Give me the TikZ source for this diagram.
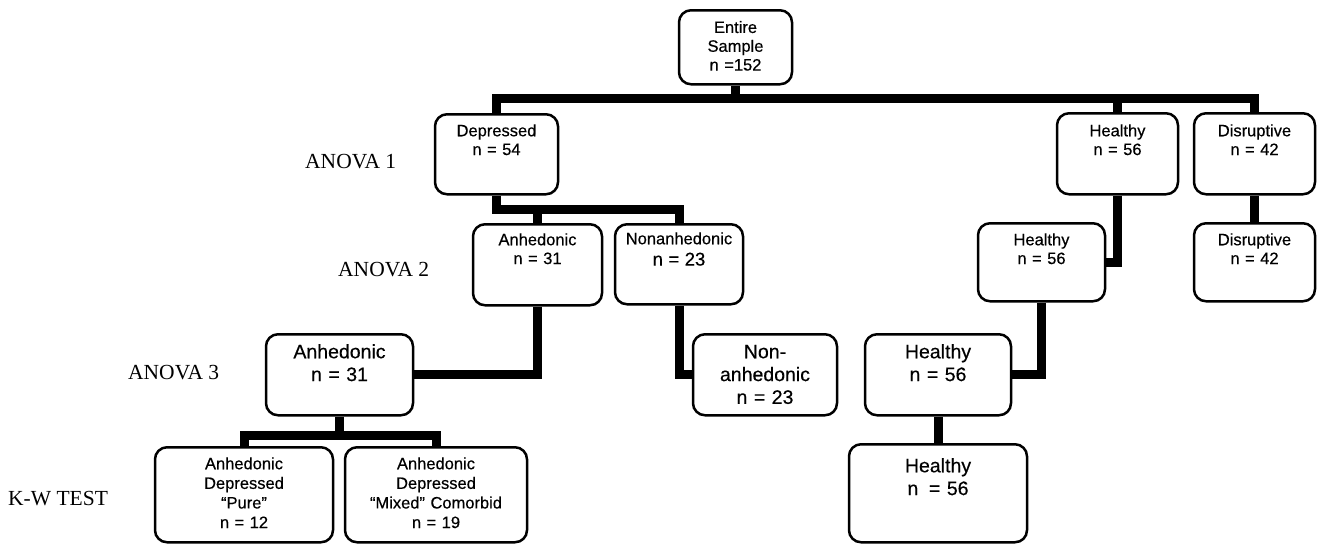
\documentclass[tikz,border=0pt]{standalone}
\usepackage{fontspec}
\setmainfont{Liberation Serif}
\setsansfont[FakeBold=0.4]{Liberation Sans}
\begin{document}
\begin{tikzpicture}[x=1pt,y=-1pt,
  box/.style={draw, line width=2.5pt, rounded corners=12pt, inner sep=0pt, anchor=north, align=center,
    font=\sffamily\fontsize{16.5}{18.8}\selectfont},
  big/.style={font=\sffamily\fontsize{19.5}{22.8}\selectfont},
  kwbox/.style={font=\sffamily\fontsize{16.5}{19.6}\selectfont},
  conn/.style={line width=9pt, line join=miter, line cap=butt},
  lab/.style={anchor=base west, inner sep=0pt, font=\rmfamily\fontsize{21.5}{24}\selectfont}]
\fill[white] (0,0) rectangle (1321,544);
\useasboundingbox (0,0) rectangle (1321,544);

% boxes
\node[box, text width=113pt, text height=22.7pt, text depth=51.3pt] (entire) at (735.5,9) {Entire\\Sample\\n =152};
\node[box, text width=123pt, text height=22pt, text depth=58pt] (dep) at (496.5,113) {Depressed\\n = 54};
\node[box, text width=121pt, text height=23pt, text depth=58pt] (hea1) at (1117.5,112) {Healthy\\n = 56};
\node[box, text width=121pt, text height=23pt, text depth=58pt] (dis1) at (1254.5,112) {Disruptive\\n = 42};
\node[box, text width=129pt, text height=21pt, text depth=60pt] (anh2) at (537.5,223) {Anhedonic\\n = 31};
\node[box, text width=128pt, text height=20pt, text depth=60pt] (non2) at (679,223) {Nonanhedonic\\[2.5pt]{\fontsize{18.5}{20}\selectfont n = 23}};
\node[box, text width=127pt, text height=22pt, text depth=56pt] (hea2) at (1041.5,222) {Healthy\\n = 56};
\node[box, text width=121pt, text height=22pt, text depth=56pt] (dis2) at (1254.5,222) {Disruptive\\n = 42};
\node[box, big, text width=147pt, text height=24pt, text depth=57pt] (anh3) at (339.5,333) {Anhedonic\\n = 31};
\node[box, big, text width=144pt, text height=24pt, text depth=57pt] (non3) at (765,333) {Non-\\anhedonic\\n = 23};
\node[box, big, text width=146pt, text height=24pt, text depth=57pt] (hea3) at (938,333) {Healthy\\n = 56};
\node[box, big, text width=178pt, text height=28pt, text depth=70pt] (heakw) at (938,443) {Healthy\\n\hspace{0.55em}= 56};
\node[box, kwbox, text width=178pt, text height=22pt, text depth=73pt] (pure) at (244,446) {Anhedonic\\Depressed\\“Pure”\\n = 12};
\node[box, kwbox, text width=182pt, text height=22pt, text depth=73pt] (mixed) at (436,446) {Anhedonic\\Depressed\\“Mixed” Comorbid\\n = 19};

% connector levels
\coordinate (b1) at (736,98);
\coordinate (b2) at (600,209);
\coordinate (b3) at (340,435);

% connectors
\draw[conn] (entire.south) -- (entire.south |- b1);
\draw[conn] (dep.north) |- (dis1.north |- b1) -- (dis1.north);
\draw[conn] (hea1.north) -- (hea1.north |- b1);
\draw[conn] (dep.south) |- (non2.north |- b2) -- (non2.north);
\draw[conn] (anh2.north) -- (anh2.north |- b2);
\draw[conn] (anh2.south) |- (anh3.east);
\draw[conn] (non2.south) |- (non3.west);
\draw[conn] (hea1.south) |- (hea2.east);
\draw[conn] (dis1.south) -- (dis2.north);
\draw[conn] (hea2.south) |- (hea3.east);
\draw[conn] (hea3.south) -- (hea3.south |- heakw.north);
\draw[conn] (pure.north) |- (mixed.north |- b3) -- (mixed.north);
\draw[conn] (anh3.south) -- (anh3.south |- b3);

% level labels
\node[lab] (a1) at (305,168) {ANOVA 1};
\node[lab] (a2) at (338,276.5) {ANOVA 2};
\node[lab] (a3) at (128,379) {ANOVA 3};
\node[lab] (kw) at (8,505) {K-W TEST};
\end{tikzpicture}
\end{document}
